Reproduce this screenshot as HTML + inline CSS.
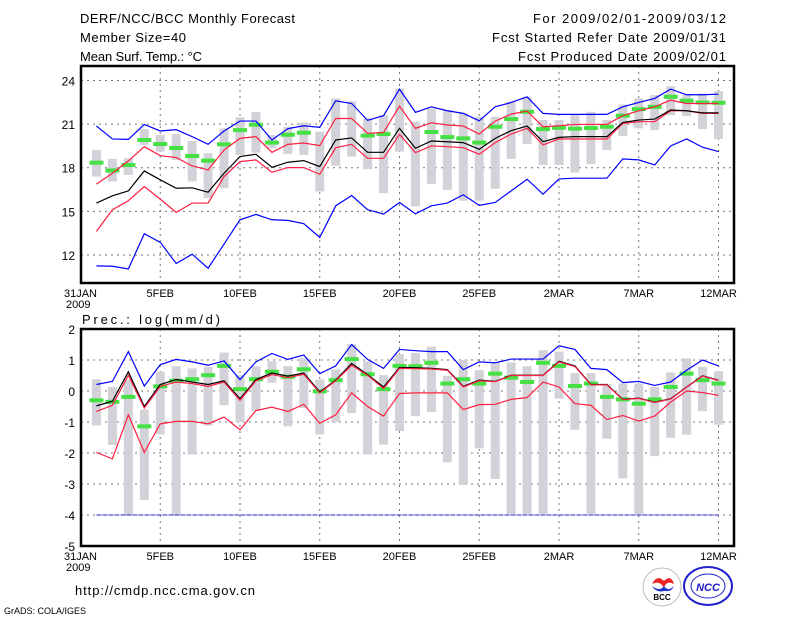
<!DOCTYPE html>
<html><head><meta charset="utf-8"><style>
body{margin:0;background:#fff;width:800px;height:618px;overflow:hidden}
svg text{font-family:"Liberation Sans",sans-serif;fill:#000}
</style></head><body>
<svg id="chart" width="800" height="618" xmlns="http://www.w3.org/2000/svg">
<g font-size="13">
<text x="80" y="23" textLength="215" lengthAdjust="spacing">DERF/NCC/BCC Monthly Forecast</text>
<text x="80" y="42" textLength="106" lengthAdjust="spacing">Member Size=40</text>
<text x="80" y="61" textLength="122" lengthAdjust="spacing">Mean Surf. Temp.: °C</text>
<text x="533" y="23" textLength="193" lengthAdjust="spacing">For 2009/02/01-2009/03/12</text>
<text x="492" y="42" textLength="234" lengthAdjust="spacing">Fcst Started Refer Date 2009/01/31</text>
<text x="518" y="61" textLength="208" lengthAdjust="spacing">Fcst Produced Date 2009/02/01</text>
</g>
<text x="82" y="324" font-size="13" textLength="138" lengthAdjust="spacing">Prec.: log(mm/d)</text>
<text x="75" y="595" font-size="13" textLength="180" lengthAdjust="spacing">http://cmdp.ncc.cma.gov.cn</text>
<text x="4" y="614" font-size="9">GrADS: COLA/IGES</text>
<g>
<circle cx="662" cy="587" r="19" fill="#fff" stroke="#bbb"/>
<path d="M652 584 q5 -10 12 -3 q7 -7 10 3 q-8 -4 -10 4 q-4 -8 -12 -4z" fill="#e22"/>
<path d="M652 586 q8 6 12 0 q4 6 10 0 q-2 6 -10 5 q-8 2 -12 -5z" fill="#23c"/>
<text x="662" y="600" font-size="8" text-anchor="middle" font-weight="bold">BCC</text>
</g>
<g>
<ellipse cx="708" cy="586" rx="24" ry="19" fill="#fff" stroke="#22c" stroke-width="2"/>
<ellipse cx="708" cy="586" rx="17" ry="12" fill="none" stroke="#22c"/>
<text x="708" y="591" font-size="11" text-anchor="middle" font-style="italic" font-weight="bold" style="fill:#22c">NCC</text>
</g>
</svg>
<script>
// day index 1..40 = Feb 1 .. Mar 12
const tBlueHi=[20.87,19.98,19.95,20.98,20.53,20.62,20.14,19.61,20.53,21.21,21.21,19.91,20.69,20.89,20.78,22.61,22.42,21.26,21.58,23.41,21.81,22.19,21.92,21.74,21.23,22.19,22.49,22.88,21.74,21.67,21.67,21.67,21.67,22.19,22.49,22.77,23.41,23.02,23.02,23.06];
const tRedHi=[16.87,17.62,18.47,19.45,18.83,18.70,18.13,17.85,19.22,20.02,20.14,19.06,19.61,19.70,19.52,21.39,21.39,20.37,20.43,22.24,20.71,21.10,20.94,20.87,20.32,21.21,21.69,21.90,20.82,20.89,20.98,20.98,20.98,21.58,21.92,22.19,22.65,22.42,22.42,22.42];
const tMean=[15.57,16.07,16.41,17.78,17.17,16.59,16.62,16.32,17.62,18.77,18.93,18.03,18.38,18.49,18.08,19.91,20.05,19.06,19.06,20.71,19.34,19.84,19.79,19.73,19.27,20.02,20.55,20.87,19.79,20.09,20.14,20.14,20.14,21.12,21.28,21.35,21.97,21.92,21.78,21.78];
const tRedLo=[13.62,15.11,15.73,16.71,15.84,14.93,15.57,15.57,17.39,18.42,18.54,17.69,18.01,18.01,17.55,19.38,19.61,18.65,18.65,20.30,19.04,19.50,19.45,19.38,18.93,19.73,20.32,20.71,19.57,19.98,19.98,19.98,19.98,21.05,21.17,21.17,21.92,21.92,21.74,21.74];
const tBlueLo=[11.25,11.22,11.04,13.46,12.87,11.41,12.05,11.09,12.75,14.42,14.79,14.42,14.38,14.15,13.21,15.38,16.09,15.11,14.81,15.61,14.83,15.38,15.57,16.14,15.41,15.61,16.41,17.21,16.18,17.23,17.28,17.28,17.28,18.61,18.54,18.19,19.50,19.98,19.41,19.11];
const tObs=[18.35,17.81,18.19,19.91,19.63,19.36,18.81,18.49,19.61,20.59,20.96,19.73,20.27,20.41,null,null,null,20.21,20.32,null,null,20.46,20.11,20.02,19.73,20.82,21.35,21.85,20.66,20.75,20.69,20.73,20.82,21.58,22.03,22.19,22.88,22.61,22.49,22.47];
const tBarHi=[19.22,18.61,18.65,20.66,20.25,20.32,19.84,19.0,20.71,21.46,21.83,20.25,20.82,21.1,20.48,22.77,22.58,21.39,21.62,23.45,21.17,22.08,21.97,21.74,21.51,21.51,22.54,22.88,21.28,21.28,21.62,21.85,21.28,22.35,22.77,23.0,23.61,23.0,23.11,23.27];
const tBarLo=[17.39,17.05,17.51,19.57,19.11,18.54,17.05,15.91,16.59,18.88,19.04,19.34,18.95,18.88,16.37,18.13,18.77,17.90,16.25,19.11,15.34,16.89,16.48,15.73,15.73,16.55,18.61,19.63,18.19,18.19,17.67,18.26,19.22,20.18,20.71,20.59,21.62,21.55,20.66,19.98];

const pBlueHi=[0.21,0.31,1.27,0.16,0.85,1.02,0.94,0.83,0.97,0.37,0.94,1.21,1.02,1.16,0.56,0.81,1.50,1.02,0.73,1.34,1.30,1.27,1.27,0.69,0.94,0.91,1.03,1.03,1.03,1.46,1.34,0.73,0.69,0.27,0.31,0.18,0.29,0.67,1.0,0.81];
const pRedHi=[-0.66,-0.46,0.51,-0.55,0.15,0.29,0.24,0.15,0.29,-0.30,0.33,0.53,0.43,0.54,-0.06,0.33,0.83,0.51,0.08,0.73,0.72,0.71,0.67,0.13,0.33,0.30,0.50,0.50,0.50,0.94,0.79,0.20,0.20,-0.28,-0.24,-0.37,-0.26,0.12,0.48,0.34];
const pMean=[-0.48,-0.33,0.62,-0.50,0.21,0.37,0.29,0.21,0.33,-0.25,0.37,0.58,0.48,0.58,-0.03,0.35,0.89,0.53,0.13,0.76,0.75,0.73,0.69,0.15,0.35,0.31,0.51,0.51,0.51,0.96,0.81,0.21,0.21,-0.27,-0.23,-0.36,-0.25,0.13,0.49,0.35];
const pRedLo=[-1.98,-2.19,-0.77,-1.98,-1.06,-0.98,-0.98,-1.06,-0.84,-1.25,-0.63,-0.52,-0.66,-0.43,-1.04,-0.77,-0.06,-0.50,-0.81,-0.08,-0.06,-0.06,-0.06,-0.60,-0.44,-0.43,-0.27,-0.21,0.29,0.13,-0.41,-0.46,-0.92,-0.79,-0.97,-0.81,-0.36,0.0,-0.05,-0.14];
const pObs=[-0.30,-0.35,-0.19,-1.14,0.15,0.33,0.38,0.51,0.81,0.06,0.38,0.62,0.46,0.70,-0.01,0.35,1.03,0.54,0.06,0.81,0.80,0.91,0.24,0.38,0.24,0.56,0.43,0.29,0.91,0.81,0.16,0.24,-0.19,-0.27,-0.41,-0.27,0.13,0.56,0.35,0.24];
const pBarHi=[0.38,0.13,0.37,-0.60,0.62,0.80,0.73,0.78,1.24,0.51,0.80,0.96,0.80,1.07,0.37,0.70,1.51,0.96,0.51,1.19,1.23,1.43,0.49,1.0,0.67,0.94,0.92,0.80,1.32,1.27,0.58,0.58,0.22,0.24,0.24,0.13,0.60,1.05,0.78,0.64];
const pBarLo=[-1.11,-1.74,-4.0,-3.51,-1.40,-4.0,-2.05,-1.11,-0.46,-1.0,-0.65,0.27,-1.14,-0.55,-1.40,-1.0,-0.71,-2.05,-1.73,-1.29,-0.81,-0.68,-2.30,-3.03,-1.85,-2.84,-3.97,-3.97,-3.97,-0.25,-1.25,-3.97,-1.54,-2.82,-3.97,-2.10,-1.51,-1.41,-0.65,-1.09];
const pFloor=-4;

const xTicks=["31JAN","5FEB","10FEB","15FEB","20FEB","25FEB","2MAR","7MAR","12MAR"];
const tTicks=[12,15,18,21,24];
const pTicks=[2,1,0,-1,-2,-3,-4,-5];

const NS="http://www.w3.org/2000/svg";
const svg=document.getElementById('chart');
const L=81,R=734;
const xDay=d=>80.5+15.95*d;
function mk(tag,attrs,parent){const e=document.createElementNS(NS,tag);for(const k in attrs)e.setAttribute(k,attrs[k]);(parent||svg).appendChild(e);return e;}

function panel(name,top,bot,vmin,vmax,ticks,series,bars,obs,floor){
  const y=v=>bot-(v-vmin)/(vmax-vmin)*(bot-top);
  const g=mk('g',{});
  
  
  ticks.forEach(t=>{const l=mk('line',{x1:L,x2:R,y1:y(t),y2:y(t),stroke:'#777','stroke-dasharray':'2,4'},g);
    
    const tx=mk('text',{x:L-6,y:y(t)+5,'text-anchor':'end','font-size':'12'},g);tx.textContent=t;
    });
  xTicks.forEach((s,i)=>{const x=xDay(i*5);
    if(i>0){const l=mk('line',{x1:x,x2:x,y1:top,y2:bot,stroke:'#777','stroke-dasharray':'2,4'},g);
    }
    const tx=mk('text',{x:x,y:bot+14,'text-anchor':'middle','font-size':'11'},g);tx.textContent=s;
    });
  const yr=mk('text',{x:66,y:bot+25,'font-size':'11'},g);yr.textContent='2009';
  
  bars[0].forEach((hi,i)=>{const lo=bars[1][i];const r=mk('rect',{x:xDay(i+1)-4.5,y:y(hi),width:9,height:y(lo)-y(hi),fill:'#d2d2d8'},g);
    });
  obs.forEach((v,i)=>{if(v===null)return;const r=mk('rect',{x:xDay(i+1)-7,y:y(v)-2,width:14,height:4,fill:'#44e044'},g);
    });
  if(floor!==undefined){const l=mk('line',{x1:xDay(1),x2:xDay(40),y1:y(floor),y2:y(floor),stroke:'#22c','stroke-dasharray':'5,1'},g);
    }
  series.forEach(([arr,col,nm])=>{const p=mk('polyline',{points:arr.map((v,i)=>xDay(i+1)+','+y(v)).join(' '),fill:'none',stroke:col,'stroke-width':1.2},g);
    });
  const f=mk('rect',{x:L,y:top,width:R-L,height:bot-top,fill:'none',stroke:'#000','stroke-width':2.5},g);
  
}
panel('temperature-panel',66,283,10.07,25.0,tTicks,
  [[tBlueLo,'#0000ff','blue-min-line'],[tRedLo,'#ff1f44','red-low-line'],[tRedHi,'#ff1f44','red-high-line'],[tMean,'#000','ensemble-mean-line'],[tBlueHi,'#0000ff','blue-max-line']],
  [tBarHi,tBarLo],tObs);
panel('precip-panel',329,546,-5,2,pTicks,
  [[pRedLo,'#ff1f44','red-low-line'],[pBlueHi,'#0000ff','blue-max-line'],[pMean,'#000','ensemble-mean-line'],[pRedHi,'#ff1f44','red-high-line']],
  [pBarHi,pBarLo],pObs,pFloor);
</script>
</body></html>
